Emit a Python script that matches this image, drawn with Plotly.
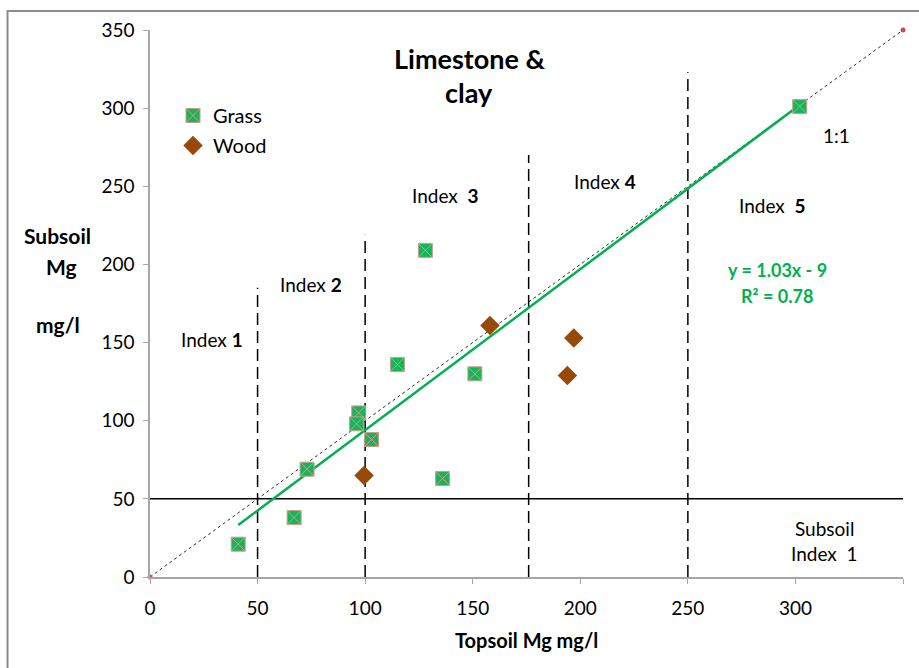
import plotly.graph_objects as go

# Data
grass_x = [41, 73, 67, 97, 96, 103, 115, 128, 151, 136, 302]
grass_y = [21, 69, 38, 105, 98, 88, 136, 209, 130, 63, 301]
wood_x = [99.5, 158, 197, 194]
wood_y = [65, 161, 153, 129]
trend_slope = 1.03
trend_intercept = -9
index_x = [50, 100, 176, 250]
index_top = [185, 219, 270, 323]
subsoil_index_y = 50
axis_max = 350
tick_vals = [0, 50, 100, 150, 200, 250, 300, 350]

FONT = "Lato, Carlito, Calibri, sans-serif"
GREEN = "#00B050"
BROWN = "#984807"

fig = go.Figure()

# 1:1 line
fig.add_trace(go.Scatter(x=[0, axis_max], y=[0, axis_max], mode="lines+markers",
                         line=dict(color="#333333", width=1, dash="3px,3px"),
                         marker=dict(color="#C0504D", size=5), showlegend=False,
                         cliponaxis=False, hoverinfo="skip"))
# Subsoil index line
fig.add_trace(go.Scatter(x=[0, axis_max], y=[subsoil_index_y, subsoil_index_y], mode="lines",
                         line=dict(color="black", width=1.5), showlegend=False, hoverinfo="skip"))
# Index vertical dashed lines
for xv, top in zip(index_x, index_top):
    fig.add_trace(go.Scatter(x=[xv, xv], y=[0, top], mode="lines",
                             line=dict(color="black", width=1.5, dash="12px,6px"),
                             showlegend=False, hoverinfo="skip"))
# Trend line
tx = [min(grass_x), max(grass_x)]
ty = [trend_slope * v + trend_intercept for v in tx]
fig.add_trace(go.Scatter(x=tx, y=ty, mode="lines", line=dict(color=GREEN, width=2.5),
                         showlegend=False, hoverinfo="skip"))

fig.add_trace(go.Scatter(x=grass_x, y=grass_y, mode="markers", name="Grass",
                         marker=dict(symbol="square-x", size=14, color="#1BB35A",
                                     line=dict(color="#C9A08C", width=1)),
                         legendgroup="g"))
fig.add_trace(go.Scatter(x=wood_x, y=wood_y, mode="markers", name="Wood",
                         marker=dict(symbol="diamond", size=15, color=BROWN),
                         legendgroup="w"))

ann = []
def txt(x, y, t, size=16, color="black", xanchor="center"):
    ann.append(dict(x=x, y=y, xref="paper", yref="paper", text=t, showarrow=False,
                    font=dict(family=FONT, size=size, color=color), xanchor=xanchor,
                    yanchor="middle"))

W, H = 753, 547
def px(x, y):
    return (x - 150) / W, (577 - y) / H

for (xx, yy, t, s) in [
    (469, 58, "<b>Limestone &</b>", 27), (469, 92, "<b>clay</b>", 27),
    (212, 340, "Index <b>1</b>", 19), (311, 284, "Index <b>2</b>", 19),
    (445, 195, "Index  <b>3</b>", 19), (605, 181, "Index <b>4</b>", 19),
    (772, 206, "Index  <b>5</b>", 19), (836, 135, "1:1", 19),
    (824, 528, "Subsoil", 19), (824, 553, "Index  1", 19),
    (57, 235, "<b>Subsoil</b>", 21), (61, 266, "<b>Mg</b>", 21), (58, 324, "<b>mg/l</b>", 21),
    (526, 640, "<b>Topsoil Mg mg/l</b>", 20),
]:
    a, b = px(xx, yy)
    txt(a, b, t, s)
a, b = px(777, 270)
txt(a, b, "<b>y = 1.03x - 9</b>", 18, GREEN)
a, b = px(777, 296)
txt(a, b, "<b>R² = 0.78</b>", 18, GREEN)

fig.update_layout(
    width=919, height=668, margin=dict(l=150, r=16, t=30, b=91),
    paper_bgcolor="white", plot_bgcolor="white",
    font=dict(family=FONT, color="black"),
    annotations=ann,
    legend=dict(x=px(173, 96)[0], y=px(173, 96)[1], xanchor="left", yanchor="top",
                font=dict(family=FONT, size=20), bgcolor="rgba(0,0,0,0)",
                tracegroupgap=1),
    shapes=[dict(type="rect", xref="paper", yref="paper",
                 x0=(7.5 - 150) / W, x1=(930 - 150) / W,
                 y0=(577 - 680) / H, y1=(577 - 11) / H,
                 line=dict(color="#8C8C8C", width=2))],
)
fig.update_xaxes(range=[0, axis_max], tickvals=tick_vals, showgrid=False, zeroline=False,
                 showline=True, linecolor="#A6A6A6", linewidth=1.5, ticks="outside",
                 ticklen=5, tickcolor="#A6A6A6", tickfont=dict(size=19, family=FONT, color="black"),
                 ticklabelstandoff=8)
fig.update_yaxes(range=[0, axis_max], tickvals=tick_vals, showgrid=False, zeroline=False,
                 showline=True, linecolor="#A6A6A6", linewidth=1.5, ticks="outside",
                 ticklen=5, tickcolor="#A6A6A6", tickfont=dict(size=19, family=FONT, color="black"),
                 ticklabelstandoff=5)

fig.write_html("out.html")
